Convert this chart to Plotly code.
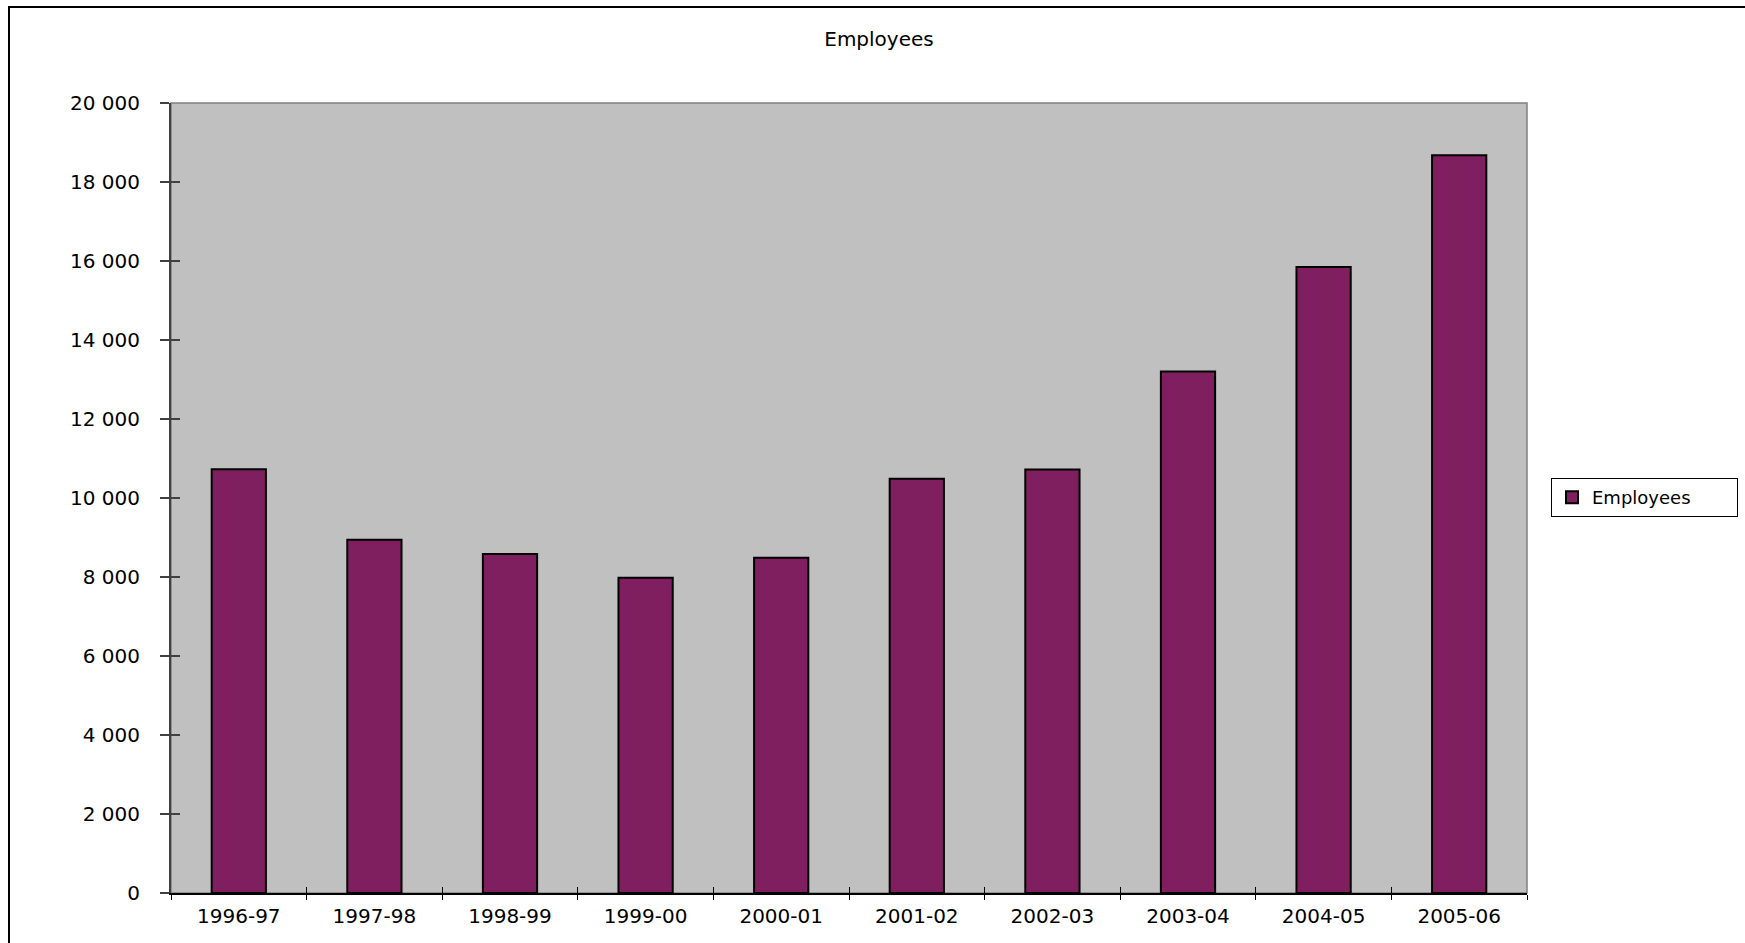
import numpy as np
import plotly.graph_objects as go

# ---- data ----
categories = ["1996-97", "1997-98", "1998-99", "1999-00", "2000-01",
              "2001-02", "2002-03", "2003-04", "2004-05", "2005-06"]
employees = [10730, 8940, 8580, 7980, 8490, 10490, 10720, 13200, 15850, 18680]
series_name = "Employees"
chart_title = "Employees"
y_ticks = [0, 2000, 4000, 6000, 8000, 10000, 12000, 14000, 16000, 18000, 20000]

FONT = "DejaVu Sans"
W, H = 1745, 943
L, R, T, B = 171, 218, 103, 50
pw, ph = W - L - R, H - T - B

fig = go.Figure()
fig.add_trace(go.Bar(
    x=categories, y=employees, name=series_name,
    marker=dict(color="#7F1F5F", line=dict(color="black", width=2)),
    width=0.4, showlegend=True,
))
# empty helper trace to host the inward tick axes
fig.add_trace(go.Scatter(x=[], y=[], xaxis="x2", yaxis="y2",
                         showlegend=False, hoverinfo="skip"))

boundaries = (np.arange(len(categories) + 1) - 0.5).tolist()

fig.update_layout(
    width=W, height=H, autosize=False,
    margin=dict(l=L, r=R, t=T, b=B, pad=0, autoexpand=False),
    paper_bgcolor="white", plot_bgcolor="#C0C0C0",
    separators=", ",
    font=dict(family=FONT, size=20, color="black"),
    title=dict(text=chart_title, x=879 / W, xref="container", xanchor="center",
               y=1 - 39 / H, yanchor="middle", yref="container",
               font=dict(family=FONT, size=20, color="black")),
    xaxis=dict(type="category", tickson="boundaries", ticks="outside", ticklen=5,
               tickcolor="black", tickwidth=1, showline=True, linecolor="black",
               linewidth=2, showgrid=False, zeroline=False,
               tickfont=dict(family=FONT, size=20, color="black"),
               ticklabelstandoff=4),
    yaxis=dict(range=[0, 20000], tickvals=y_ticks, tickformat=",d", ticks="outside",
               ticklen=9, tickcolor="#404040", tickwidth=1.5, showline=True,
               linecolor="#404040", linewidth=2, showgrid=False, zeroline=False,
               tickfont=dict(family=FONT, size=20, color="black"),
               ticklabelstandoff=16),
    xaxis2=dict(overlaying="x", range=[-0.5, len(categories) - 0.5], tickvals=boundaries,
                ticks="inside", ticklen=6, tickcolor="black", tickwidth=1,
                showticklabels=False, showgrid=False, zeroline=False, showline=False,
                side="bottom"),
    yaxis2=dict(overlaying="y", range=[0, 20000], tickvals=y_ticks, ticks="inside",
                ticklen=9, tickcolor="#404040", tickwidth=1.5, showticklabels=False,
                showgrid=False, zeroline=False, showline=False, side="left"),
    legend=dict(orientation="h", x=(1551 - L) / pw, xanchor="left",
                y=(H - B - 478) / ph, yanchor="top",
                bordercolor="black", borderwidth=1, bgcolor="white",
                font=dict(family=FONT, size=18, color="black"),
                entrywidth=140, entrywidthmode="pixels"),
    bargap=0.6,
    shapes=[
        # plot frame (top/right grey edges)
        dict(type="rect", xref="paper", yref="paper", x0=0, x1=1, y0=0, y1=1,
             line=dict(color="#808080", width=1.5), layer="below"),
        # outer chart frame
        dict(type="rect", xref="paper", yref="paper",
             x0=(9 - L) / pw, x1=1.2, y0=-0.2, y1=(H - B - 7) / ph,
             line=dict(color="black", width=2), layer="above"),
    ],
)

fig.write_html("out.html")
